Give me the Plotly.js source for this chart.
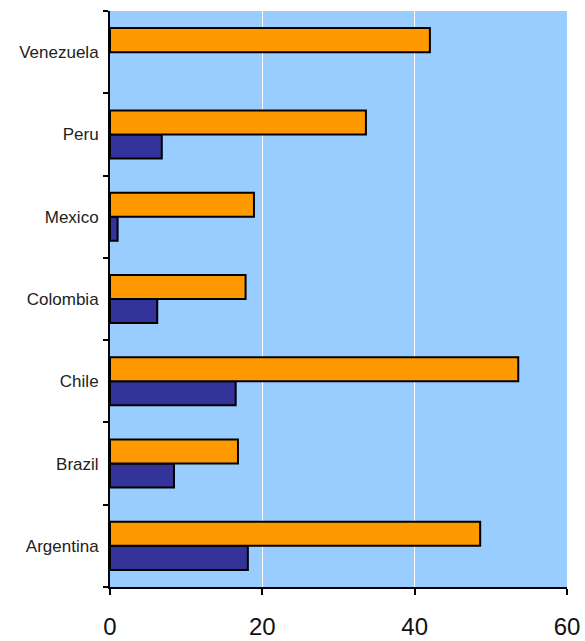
<!DOCTYPE html>
<html>
<head>
<meta charset="utf-8">
<script src="https://cdn.plot.ly/plotly-3.0.1.min.js"></script>
<style>
  html, body { margin: 0; padding: 0; background: #ffffff; }
  #chart { width: 585px; height: 641px; }
</style>
</head>
<body>
<div id="chart"></div>
<script>
// Countries, listed bottom to top
const countries = ['Argentina', 'Brazil', 'Chile', 'Colombia', 'Mexico', 'Peru', 'Venezuela'];
// Lower (dark blue) series; Venezuela has no value
const seriesBlue = [18.1, 8.4, 16.5, 6.2, 1.0, 6.8, null];
// Upper (orange) series
const seriesOrange = [48.6, 16.8, 53.6, 17.8, 18.9, 33.6, 42.0];
const xTicks = [0, 20, 40, 60];

const barLine = { color: '#000000', width: 2 };

const traces = [
  {
    type: 'bar', orientation: 'h',
    y: countries, x: seriesBlue,
    marker: { color: '#333399', line: barLine },
    hoverinfo: 'x+y'
  },
  {
    type: 'bar', orientation: 'h',
    y: countries, x: seriesOrange,
    marker: { color: '#FF9900', line: barLine },
    hoverinfo: 'x+y'
  }
];

const layout = {
  width: 585, height: 641,
  margin: { l: 110, r: 18, t: 11, b: 54, pad: 0 },
  paper_bgcolor: '#ffffff',
  plot_bgcolor: '#99CCFF',
  showlegend: false,
  barmode: 'group',
  bargap: 0.416,
  bargroupgap: 0,
  font: { family: 'Arial, Liberation Sans, sans-serif', color: '#000000' },
  xaxis: {
    range: [0, 60],
    tickvals: xTicks,
    ticktext: xTicks.map(String),
    showgrid: true, gridcolor: '#ffffff', gridwidth: 1,
    zeroline: false,
    showline: true, linecolor: '#000000', linewidth: 2,
    ticks: 'outside', ticklen: 6, tickwidth: 2, tickcolor: '#000000',
    ticklabelstandoff: 11,
    tickfont: { size: 24, color: '#111111' },
    fixedrange: true
  },
  yaxis: {
    type: 'category',
    categoryorder: 'array', categoryarray: countries,
    tickson: 'boundaries',
    showgrid: false, zeroline: false,
    showline: true, linecolor: '#000000', linewidth: 2,
    ticks: 'outside', ticklen: 5, tickwidth: 2, tickcolor: '#000000',
    ticklabelstandoff: 6,
    tickfont: { size: 17, color: '#222222' },
    fixedrange: true
  }
};

Plotly.newPlot('chart', traces, layout, { displayModeBar: false, staticPlot: true });
</script>
</body>
</html>
